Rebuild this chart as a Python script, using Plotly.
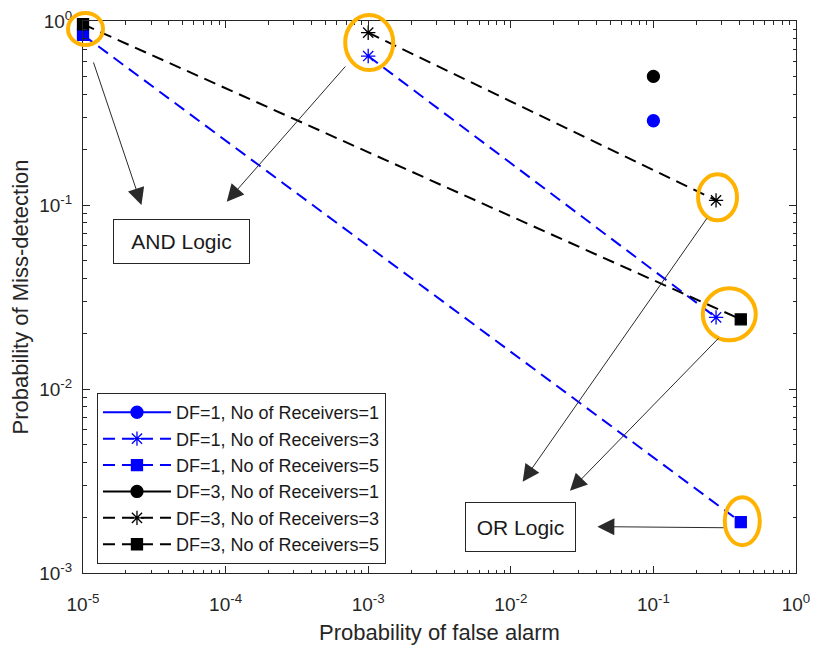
import math
import plotly.graph_objects as go

# ---------------- data ----------------
x_df1_r1 = [0.1]
y_df1_r1 = [0.287]
x_df1_r3 = [1e-3, 0.275]
y_df1_r3 = [0.645, 0.0245]
x_df1_r5 = [1e-5, 0.41]
y_df1_r5 = [0.84, 0.00189]
x_df3_r1 = [0.1]
y_df3_r1 = [0.50]
x_df3_r3 = [1e-3, 0.275]
y_df3_r3 = [0.864, 0.106]
x_df3_r5 = [1e-5, 0.41]
y_df3_r5 = [0.96, 0.0239]

series_names = [
    "DF=1, No of Receivers=1",
    "DF=1, No of Receivers=3",
    "DF=1, No of Receivers=5",
    "DF=3, No of Receivers=1",
    "DF=3, No of Receivers=3",
    "DF=3, No of Receivers=5",
]
x_tick_vals = [1e-5, 1e-4, 1e-3, 1e-2, 1e-1, 1]
x_tick_text = ["10<sup>-5</sup>", "10<sup>-4</sup>", "10<sup>-3</sup>",
               "10<sup>-2</sup>", "10<sup>-1</sup>", "10<sup>0</sup>"]
y_tick_vals = [1e-3, 1e-2, 1e-1, 1]
y_tick_text = ["10<sup>-3</sup>", "10<sup>-2</sup>", "10<sup>-1</sup>", "10<sup>0</sup>"]

FONT = "Liberation Sans, Arial, Helvetica, sans-serif"
AX = "#262626"
BLUE = "#0000FF"
BLACK = "#000000"
ORANGE = "#FFB300"
DASH = "12px,7px"

W, H = 810, 641
ML, MR, MT, MB = 75, 22, 13, 76
X_RANGE = [-5, 0]
Y_RANGE = [-3, 0]
PLOT_W = W - ML - MR
PLOT_H = H - MT - MB

series = [
    (x_df1_r1, y_df1_r1, BLUE, "solid", "circle", 12),
    (x_df1_r3, y_df1_r3, BLUE, DASH, "asterisk-open", 12),
    (x_df1_r5, y_df1_r5, BLUE, DASH, "square", 11),
    (x_df3_r1, y_df3_r1, BLACK, "solid", "circle", 12),
    (x_df3_r3, y_df3_r3, BLACK, DASH, "asterisk-open", 12),
    (x_df3_r5, y_df3_r5, BLACK, DASH, "square", 11),
]

fig = go.Figure()
for name, (xs, ys, col, dash, sym, size) in zip(series_names, series):
    fig.add_trace(go.Scatter(
        x=xs, y=ys, name=name, mode="lines+markers", cliponaxis=False,
        line=dict(color=col, width=2, dash=dash),
        marker=dict(symbol=sym, size=size, color=col,
                    line=dict(color=col, width=1.3)),
    ))


def to_paper_x(v, dpx):
    return (math.log10(v) - X_RANGE[0]) / (X_RANGE[1] - X_RANGE[0]) + dpx / PLOT_W


def to_paper_y(v, dpx):
    return (math.log10(v) - Y_RANGE[0]) / (Y_RANGE[1] - Y_RANGE[0]) + dpx / PLOT_H


# ---------------- highlight ellipses around data points ----------------
ellipses = [
    # anchor x, anchor y, pixel offsets: left, right, below, above
    (x_df1_r5[0], y_df1_r5[0], -15, 20, -10, 22),
    (x_df1_r3[0], y_df1_r3[0], -23, 25, -14, 41),
    (x_df3_r3[1], y_df3_r3[1], -18, 21, -20, 26),
    (x_df3_r5[1], y_df3_r5[1], -38, 15, -21, 31),
    (x_df1_r5[1], y_df1_r5[1], -16, 19, -23, 25),
]
for ax_, ay_, x0, x1, y0, y1 in ellipses:
    fig.add_shape(type="circle", xref="paper", yref="paper",
                  x0=to_paper_x(ax_, x0), x1=to_paper_x(ax_, x1),
                  y0=to_paper_y(ay_, y0), y1=to_paper_y(ay_, y1),
                  line=dict(color=ORANGE, width=4), layer="above")

# ---------------- arrows (log10 coordinates) ----------------
arrows = [
    # tip (x, y), tail (x, y)
    ((-4.590, -1.000), (-4.930, -0.217)),
    ((-3.992, -0.982), (-3.151, -0.239)),
    ((-1.917, -2.504), (-0.617, -1.064)),
    ((-1.585, -2.553), (-0.533, -1.716)),
    ((-1.393, -2.748), (-0.498, -2.754)),
]
for (tx, ty), (sx, sy) in arrows:
    fig.add_annotation(x=tx, y=ty, ax=sx, ay=sy, xref="x", yref="y",
                       axref="x", ayref="y", text="", showarrow=True,
                       arrowhead=2, arrowsize=3.4, arrowwidth=1,
                       arrowcolor="#2a2a2a")

# ---------------- text boxes ----------------
fig.add_annotation(x=-4.309, y=-1.196, xref="x", yref="y", text="AND Logic",
                   showarrow=False, font=dict(family=FONT, size=21, color="#1a1a1a"),
                   bordercolor="#262626", borderwidth=1, borderpad=4,
                   bgcolor="white", width=127, height=35)
fig.add_annotation(x=-1.929, y=-2.75, xref="x", yref="y", text="OR Logic",
                   showarrow=False, font=dict(family=FONT, size=21, color="#1a1a1a"),
                   bordercolor="#262626", borderwidth=1, borderpad=4,
                   bgcolor="white", width=101, height=40)

axis_common = dict(
    type="log", showline=True, linecolor=AX, linewidth=1, mirror="ticks",
    ticks="inside", ticklen=7, tickcolor=AX, tickwidth=1,
    showgrid=False, zeroline=False, automargin=False,
    ticklabeloverflow="allow",
    tickfont=dict(family=FONT, size=19, color=AX),
    minor=dict(ticks="inside", ticklen=3.5, tickcolor=AX, tickwidth=1,
               dtick="D1", showgrid=False),
)

fig.update_xaxes(**axis_common, range=X_RANGE, tickmode="array",
                 tickvals=x_tick_vals, ticktext=x_tick_text,
                 ticklabelstandoff=14,
                 title=dict(text="Probability of false alarm",
                            font=dict(family=FONT, size=22, color=AX), standoff=10))
fig.update_yaxes(**axis_common, range=Y_RANGE, tickmode="array",
                 tickvals=y_tick_vals, ticktext=y_tick_text,
                 ticklabelstandoff=6,
                 title=dict(text="Probability of Miss-detection",
                            font=dict(family=FONT, size=22, color=AX), standoff=15))

fig.update_layout(
    width=W, height=H,
    margin=dict(l=ML, r=MR, t=MT, b=MB, autoexpand=False),
    paper_bgcolor="white", plot_bgcolor="white",
    font=dict(family=FONT, color=AX),
    showlegend=True,
    legend=dict(x=0.0196, y=0.326, xanchor="left", yanchor="top",
                bgcolor="white", bordercolor="#262626", borderwidth=1,
                font=dict(family=FONT, size=18, color="#1a1a1a"),
                itemwidth=68, tracegroupgap=0),
)

fig.write_html("out.html")
